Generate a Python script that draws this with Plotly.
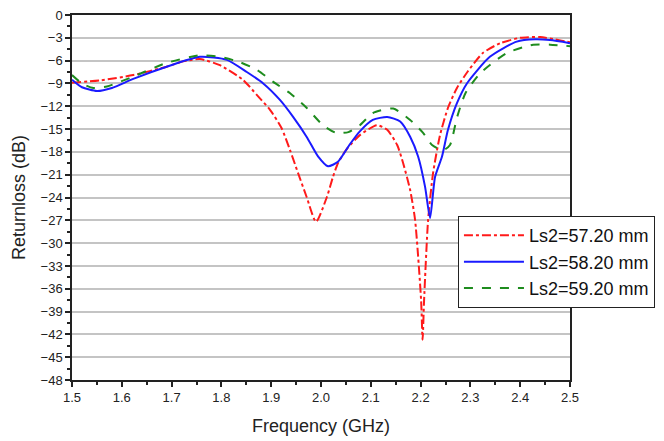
import plotly.graph_objects as go

f_red = [1.50, 1.556, 1.623, 1.69, 1.723, 1.757, 1.797, 1.843, 1.871, 1.898, 1.921, 1.938, 1.954,
         1.971, 1.99, 2.012, 2.024, 2.034, 2.052, 2.078, 2.112, 2.133, 2.153, 2.165, 2.179, 2.189,
         2.201, 2.204, 2.207, 2.215, 2.225, 2.239, 2.255, 2.273, 2.295, 2.325, 2.36, 2.40, 2.44,
         2.47, 2.50]
s_red = [-8.9, -8.6, -7.9, -6.8, -6.1, -5.8, -6.6, -8.5, -10.5, -12.5, -14.9, -17.8, -20.8,
         -23.9, -27.2, -23.9, -21.3, -19.5, -17.6, -15.8, -14.5, -15.1, -17.1, -19.5, -23.0, -27.0,
         -37.5, -42.7, -37.5, -27.0, -20.8, -15.8, -12.2, -9.6, -7.4, -5.0, -3.7, -3.0, -2.9,
         -3.2, -3.6]

f_blue = [1.50, 1.52, 1.55, 1.58, 1.623, 1.69, 1.757, 1.811, 1.851, 1.884, 1.918, 1.944, 1.971,
          1.994, 2.014, 2.034, 2.058, 2.078, 2.104, 2.133, 2.159, 2.179, 2.195, 2.209, 2.219, 2.229,
          2.243, 2.255, 2.273, 2.293, 2.339, 2.393, 2.43, 2.46, 2.50]
s_blue = [-8.5, -9.5, -10.0, -9.6, -8.4, -6.8, -5.5, -5.9, -7.5, -9.0, -11.2, -13.4, -16.0,
          -18.6, -19.9, -19.3, -17.0, -15.3, -13.8, -13.4, -14.0, -16.0, -18.6, -22.6, -26.7, -21.3,
          -18.6, -15.1, -11.6, -9.0, -5.5, -3.5, -3.2, -3.3, -3.7]

f_green = [1.50, 1.52, 1.543, 1.57, 1.623, 1.69, 1.757, 1.797, 1.837, 1.871, 1.904, 1.938, 1.971,
           2.004, 2.03, 2.055, 2.078, 2.104, 2.145, 2.179, 2.205, 2.223, 2.245, 2.259, 2.273, 2.29,
           2.319, 2.373, 2.426, 2.46, 2.50]
s_green = [-7.9, -9.0, -9.6, -9.4, -8.1, -6.3, -5.3, -5.5, -6.2, -7.2, -8.8, -10.3, -12.2,
           -14.5, -15.5, -15.4, -14.5, -12.9, -12.3, -13.8, -15.5, -17.1, -17.8, -17.1, -13.5, -10.3,
           -7.7, -5.0, -3.9, -3.9, -4.1]

names = ["Ls2=57.20 mm", "Ls2=58.20 mm", "Ls2=59.20 mm"]

fig = go.Figure()
fig.add_trace(go.Scatter(x=f_red, y=s_red, mode="lines", name=names[0],
                         line=dict(color="#ff1a1a", width=2, dash="dashdot", shape="spline", smoothing=0.6)))
fig.add_trace(go.Scatter(x=f_blue, y=s_blue, mode="lines", name=names[1],
                         line=dict(color="#1a1aff", width=2, shape="spline", smoothing=0.6)))
fig.add_trace(go.Scatter(x=f_green, y=s_green, mode="lines", name=names[2],
                         line=dict(color="#1e8c1e", width=2, dash="dash", shape="spline", smoothing=0.6)))

font_family = "Liberation Sans, Arial, sans-serif"
fig.update_layout(
    width=664, height=441,
    margin=dict(l=72, r=94, t=15, b=61, autoexpand=False),
    paper_bgcolor="white", plot_bgcolor="white",
    font=dict(family=font_family, size=13, color="#222"),
    showlegend=True,
    legend=dict(x=0.775, y=0.449, xanchor="left", yanchor="top",
                bgcolor="white", bordercolor="#222", borderwidth=1,
                itemwidth=60,
                font=dict(size=18, color="#111", family=font_family)),
    xaxis=dict(range=[1.5, 2.5], dtick=0.1, tick0=1.5, tickformat=".1f",
               showgrid=False, zeroline=False,
               showline=True, linecolor="#222", linewidth=1.5, mirror=True,
               ticks="outside", ticklen=5, tickwidth=1.5, tickcolor="#222",
               minor=dict(dtick=0.05, ticks="outside", ticklen=3, tickwidth=1.5, tickcolor="#222"),
               title=dict(text="Frequency (GHz)", font=dict(size=18, color="#222"), standoff=15)),
    yaxis=dict(range=[-48, 0], dtick=3, tick0=0,
               showgrid=True, gridcolor="#c4c4c4", gridwidth=1.5, zeroline=False,
               showline=True, linecolor="#222", linewidth=1.5, mirror=True,
               ticks="outside", ticklen=5, tickwidth=1.5, tickcolor="#222",
               minor=dict(dtick=1.5, ticks="outside", ticklen=3, tickwidth=1.5, tickcolor="#222", showgrid=False),
               title=dict(text="Returnloss (dB)", font=dict(size=18, color="#222"), standoff=10)),
)

fig.write_html("out.html")
